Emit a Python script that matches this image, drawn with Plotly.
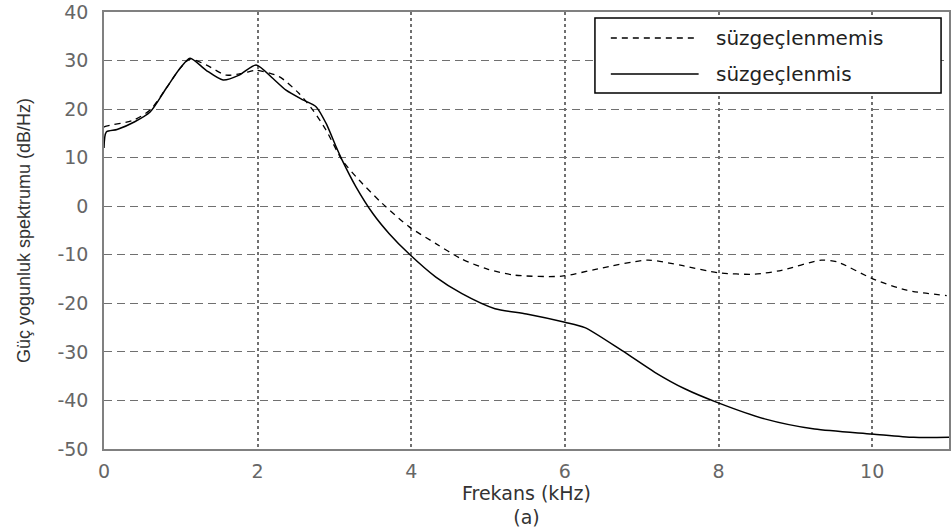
import plotly.graph_objects as go

# ---- data ----
name_unfiltered = "süzgeçlenmemis"
name_filtered = "süzgeçlenmis"

freq_unfiltered = [0.0, 0.03, 0.38, 0.6, 0.81, 0.99, 1.12, 1.33, 1.59, 1.81, 1.98, 2.28, 2.54,
                   2.72, 2.89, 3.1, 3.32, 3.62, 3.97, 4.32, 4.66, 5.0, 5.35, 5.96, 6.43, 7.08,
                   7.52, 8.0, 8.47, 8.82, 9.34, 9.55, 10.0, 10.45, 10.97]
psd_unfiltered = [16.3, 16.5, 17.7, 19.8, 24.3, 28.4, 30.3, 29.1, 27.0, 27.4, 28.0, 26.7, 23.2,
                  19.8, 15.7, 9.5, 5.4, 0.6, -4.2, -7.7, -10.9, -13.0, -14.2, -14.4, -12.9, -11.1,
                  -12.2, -13.7, -14.0, -13.2, -11.1, -11.5, -14.9, -17.3, -18.4]

freq_filtered = [0.0, 0.03, 0.17, 0.4, 0.6, 0.81, 0.99, 1.12, 1.33, 1.55, 1.76, 1.98, 2.2, 2.37,
                 2.59, 2.76, 2.89, 3.02, 3.1, 3.28, 3.5, 3.71, 3.97, 4.32, 4.66, 5.09, 5.5, 6.0,
                 6.26, 6.74, 7.17, 7.56, 7.98, 8.6, 9.25, 10.0, 10.54, 11.0]
psd_filtered = [12.0, 15.3, 15.8, 17.4, 19.4, 24.3, 28.4, 30.5, 28.0, 26.0, 27.0, 29.1, 26.3, 23.9,
                21.9, 20.5, 17.1, 12.3, 9.5, 4.0, -1.5, -5.6, -9.8, -14.6, -18.0, -21.1, -22.2, -23.9,
                -25.0, -29.7, -34.2, -37.6, -40.4, -43.8, -45.9, -46.9, -47.6, -47.6]

x_ticks = [0, 2, 4, 6, 8, 10]
x_tick_labels = ["0", "2", "4", "6", "8", "10"]
y_ticks = [40, 30, 20, 10, 0, -10, -20, -30, -40, -50]
y_tick_labels = ["40", "30", "20", "10", "0", "-10", "-20", "-30", "-40", "-50"]

x_title = "Frekans (kHz)<br>(a)"
y_title = "Güç yogunluk spektrumu (dB/Hz)"

# ---- figure ----
fig = go.Figure()
fig.add_trace(go.Scatter(x=freq_unfiltered, y=psd_unfiltered, mode="lines", name=name_unfiltered,
                         line=dict(color="black", width=1.3, dash="6px,5px", shape="spline", smoothing=0.7)))
fig.add_trace(go.Scatter(x=freq_filtered, y=psd_filtered, mode="lines", name=name_filtered,
                         line=dict(color="black", width=1.5, shape="spline", smoothing=0.7)))

tick_font = dict(family="DejaVu Sans", size=19, color="#666666")

fig.update_xaxes(range=[0, 11], tickvals=x_ticks, ticktext=x_tick_labels, showgrid=True,
                 gridcolor="#707070", gridwidth=1.5, griddash="3px,3px", zeroline=False, showline=True,
                 mirror=True, linecolor="#808080", linewidth=1.5, ticks="", tickfont=tick_font,
                 ticklabelstandoff=4,
                 title=dict(text=x_title, font=dict(family="DejaVu Sans", size=19, color="#333333"), standoff=1))
fig.update_yaxes(range=[-50, 40], tickvals=y_ticks, ticktext=y_tick_labels, showgrid=True,
                 gridcolor="#707070", gridwidth=1, griddash="8px,5px", zeroline=False, showline=True,
                 mirror=True, linecolor="#808080", linewidth=1.5, ticks="", tickfont=tick_font,
                 ticklabelstandoff=10,
                 title=dict(text=y_title, font=dict(family="Liberation Sans", size=18, color="#333333"), standoff=22))

# manual legend (box with long line samples)
legend_font = dict(family="DejaVu Sans", size=20, color="#222222")
fig.add_shape(type="rect", xref="paper", yref="paper", x0=0.581, x1=0.9906, y0=0.8146, y1=0.986,
              line=dict(color="black", width=1.5), fillcolor="white", layer="above")
entries = [(name_unfiltered, "6px,5px", 0.9405), (name_filtered, "solid", 0.8581)]
for label, dash, ypos in entries:
    fig.add_shape(type="line", xref="paper", yref="paper", x0=0.5998, x1=0.7037, y0=ypos, y1=ypos,
                  line=dict(color="black", width=1.3, dash=dash), layer="above")
    fig.add_annotation(text=label, xref="paper", yref="paper", x=0.7214, y=ypos, xanchor="left",
                       yanchor="middle", showarrow=False, font=legend_font)

fig.update_layout(width=951, height=532, margin=dict(l=104, r=0, t=12, b=83),
                  plot_bgcolor="white", paper_bgcolor="white", showlegend=False)

fig.write_html("out.html", config={"displayModeBar": False},
               post_script="document.body.style.margin='0';document.body.style.overflow='hidden';")
